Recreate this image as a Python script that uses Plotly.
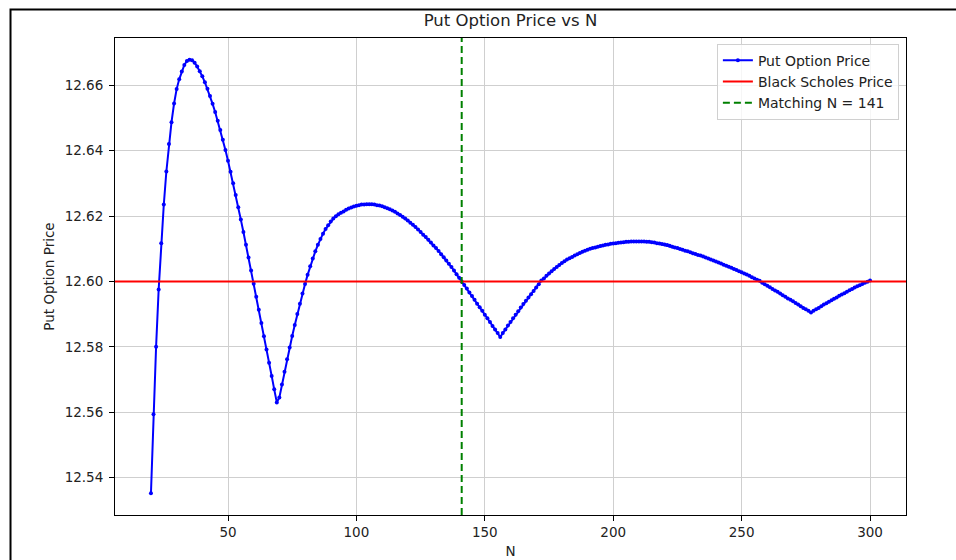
import plotly.graph_objects as go

# Binomial put prices for N = 20 .. 300 steps
steps = list(range(20, 301))
put_prices = [
    12.5352, 12.5594, 12.5800, 12.5975, 12.6117, 12.6235, 12.6336, 12.6420, 12.6487, 12.6544,  # 20-29
    12.6588, 12.6618, 12.6642, 12.6662, 12.6674, 12.6678, 12.6676, 12.6669, 12.6657, 12.6643,  # 30-39
    12.6627, 12.6609, 12.6589, 12.6567, 12.6543, 12.6518, 12.6491, 12.6463, 12.6433, 12.6402,  # 40-49
    12.6369, 12.6335, 12.6300, 12.6264, 12.6227, 12.6189, 12.6151, 12.6112, 12.6073, 12.6033,  # 50-59
    12.5993, 12.5953, 12.5913, 12.5873, 12.5832, 12.5792, 12.5751, 12.5711, 12.5670, 12.5630,  # 60-69
    12.5645, 12.5685, 12.5724, 12.5762, 12.5798, 12.5833, 12.5867, 12.5900, 12.5932, 12.5963,  # 70-79
    12.5992, 12.6020, 12.6046, 12.6070, 12.6092, 12.6112, 12.6130, 12.6146, 12.6160, 12.6172,  # 80-89
    12.6183, 12.6192, 12.6199, 12.6205, 12.6210, 12.6214, 12.6219, 12.6223, 12.6226, 12.6229,  # 90-99
    12.6231, 12.6233, 12.6235, 12.6235, 12.6236, 12.6236, 12.6236, 12.6235, 12.6233, 12.6232,  # 100-109
    12.6230, 12.6227, 12.6224, 12.6221, 12.6217, 12.6213, 12.6208, 12.6203, 12.6198, 12.6192,  # 110-119
    12.6186, 12.6179, 12.6173, 12.6166, 12.6159, 12.6151, 12.6143, 12.6136, 12.6127, 12.6119,  # 120-129
    12.6110, 12.6102, 12.6093, 12.6083, 12.6074, 12.6064, 12.6054, 12.6044, 12.6033, 12.6022,  # 130-139
    12.6011, 12.6000, 12.5989, 12.5978, 12.5966, 12.5955, 12.5944, 12.5932, 12.5921, 12.5910,  # 140-149
    12.5898, 12.5887, 12.5876, 12.5864, 12.5853, 12.5842, 12.5830, 12.5842, 12.5853, 12.5865,  # 150-159
    12.5876, 12.5887, 12.5898, 12.5909, 12.5920, 12.5931, 12.5941, 12.5951, 12.5961, 12.5971,  # 160-169
    12.5981, 12.5991, 12.6003, 12.6009, 12.6017, 12.6024, 12.6031, 12.6038, 12.6044, 12.6050,  # 170-179
    12.6056, 12.6062, 12.6067, 12.6071, 12.6075, 12.6079, 12.6083, 12.6087, 12.6091, 12.6094,  # 180-189
    12.6097, 12.6100, 12.6102, 12.6104, 12.6106, 12.6108, 12.6110, 12.6112, 12.6113, 12.6115,  # 190-199
    12.6116, 12.6117, 12.6118, 12.6119, 12.6120, 12.6121, 12.6121, 12.6122, 12.6122, 12.6122,  # 200-209
    12.6122, 12.6122, 12.6122, 12.6121, 12.6121, 12.6120, 12.6119, 12.6117, 12.6116, 12.6114,  # 210-219
    12.6113, 12.6111, 12.6109, 12.6106, 12.6104, 12.6102, 12.6099, 12.6097, 12.6094, 12.6092,  # 220-229
    12.6089, 12.6086, 12.6084, 12.6081, 12.6079, 12.6076, 12.6073, 12.6070, 12.6067, 12.6064,  # 230-239
    12.6061, 12.6058, 12.6055, 12.6051, 12.6048, 12.6045, 12.6042, 12.6038, 12.6035, 12.6031,  # 240-249
    12.6028, 12.6024, 12.6021, 12.6017, 12.6013, 12.6009, 12.6005, 12.6002, 12.5996, 12.5991,  # 250-259
    12.5987, 12.5982, 12.5977, 12.5972, 12.5968, 12.5963, 12.5958, 12.5953, 12.5948, 12.5944,  # 260-269
    12.5939, 12.5934, 12.5929, 12.5924, 12.5919, 12.5915, 12.5910, 12.5905, 12.5910, 12.5915,  # 270-279
    12.5919, 12.5924, 12.5929, 12.5933, 12.5938, 12.5942, 12.5947, 12.5951, 12.5956, 12.5960,  # 280-289
    12.5964, 12.5968, 12.5973, 12.5977, 12.5981, 12.5985, 12.5988, 12.5992, 12.5996, 12.5999,  # 290-299
    12.6003,                                                                                    # 300
]
black_scholes_price = 12.600
matching_n = 141

x_ticks = [50, 100, 150, 200, 250, 300]
y_ticks = [12.54, 12.56, 12.58, 12.60, 12.62, 12.64, 12.66]

# axis limits with a 5% margin around the data
x_pad = 0.05 * (max(steps) - min(steps))
x_range = [min(steps) - x_pad, max(steps) + x_pad]
y_pad = 0.05 * (max(put_prices) - min(put_prices))
y_range = [min(put_prices) - y_pad, max(put_prices) + y_pad]

FONT = "DejaVu Sans"
TEXT = "#222222"

fig = go.Figure()
fig.add_trace(go.Scatter(
    x=steps, y=put_prices, mode="lines+markers", name="Put Option Price",
    line=dict(color="#0000ff", width=2), marker=dict(color="#0000ff", size=4),
))
fig.add_trace(go.Scatter(
    x=x_range, y=[black_scholes_price, black_scholes_price], mode="lines",
    name="Black Scholes Price", line=dict(color="#ff0000", width=2),
))
fig.add_trace(go.Scatter(
    x=[matching_n, matching_n], y=y_range, mode="lines",
    name=f"Matching N = {matching_n}",
    line=dict(color="#008000", width=2, dash="7px,4px"),
))

axis_common = dict(
    showline=True, linecolor="#000000", linewidth=1, mirror=True,
    ticks="outside", ticklen=5, tickcolor="#000000", tickwidth=1,
    showgrid=True, gridcolor="#cfcfcf", gridwidth=1, zeroline=False,
    tickfont=dict(family=FONT, size=13.5, color=TEXT),
)

fig.update_xaxes(
    range=x_range, tickvals=x_ticks, ticklabelstandoff=0,
    title=dict(text="N", font=dict(family=FONT, size=13.5, color=TEXT), standoff=7),
    **axis_common,
)
fig.update_yaxes(
    range=y_range, tickvals=y_ticks, tickformat=".2f", ticklabelstandoff=3,
    title=dict(text="Put Option Price", font=dict(family=FONT, size=13.5, color=TEXT), standoff=6),
    **axis_common,
)

fig.update_layout(
    width=956, height=560,
    margin=dict(l=115, r=50, t=38, b=45, autoexpand=False),
    paper_bgcolor="#ffffff", plot_bgcolor="#ffffff",
    font=dict(family=FONT, size=13.5, color=TEXT),
    title=dict(
        text="Put Option Price vs N", x=0.5, xref="paper", xanchor="center",
        y=1 - 20 / 560, yref="container", yanchor="middle",
        font=dict(family=FONT, size=16.5, color=TEXT),
    ),
    legend=dict(
        x=0.991, xanchor="right", y=0.988, yanchor="top",
        bgcolor="rgba(255,255,255,0.8)", bordercolor="#d0d0d0", borderwidth=1,
        font=dict(family=FONT, size=14, color=TEXT), tracegroupgap=0,
    ),
    showlegend=True,
    shapes=[
        # figure frame
        dict(type="rect", xref="paper", yref="paper",
             x0=-0.1321, x1=1.2, y0=-0.2, y1=1.0597,
             line=dict(color="#000000", width=2), fillcolor="rgba(0,0,0,0)",
             layer="above"),
    ],
)

fig.write_html("out.html")
